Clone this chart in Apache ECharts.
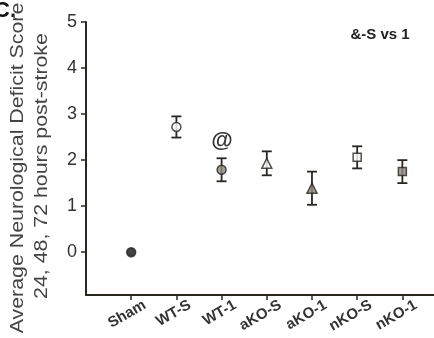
<!DOCTYPE html>
<html>
<head>
<meta charset="utf-8">
<script src="https://cdn.jsdelivr.net/npm/echarts@6/dist/echarts.min.js"></script>
<style>
  html, body { margin: 0; padding: 0; background: #fff; }
  #chart { width: 434px; height: 338px; }
</style>
</head>
<body>
<div id="chart"></div>
<script>
// groups on the x axis (placed at 1..7)
const groups = ['Sham', 'WT-S', 'WT-1', 'aKO-S', 'aKO-1', 'nKO-S', 'nKO-1'];
// mean deficit score and error (SEM) per group
const means = [0, 2.72, 1.79, 1.93, 1.39, 2.06, 1.75];
const errors = [0, 0.23, 0.25, 0.26, 0.36, 0.24, 0.25];
const yTicks = [0, 1, 2, 3, 4, 5];

// marker look per group
const symbols = ['circle', 'circle', 'circle', 'triangle', 'triangle', 'rect', 'rect'];
const fills = ['#111', '#fff', '#8f8a80', '#fff', '#8f8a80', '#fff', '#8f8a80'];
const sizes = [9, 9, 9, 10, 10, 8, 8];

const ink = '#2a2622';
const labelShift = 0.3;

let myChart = echarts.init(document.getElementById('chart'));

let pointData = groups.map(function(g, i) {
    return {
        value: [i + 1, means[i]],
        symbol: symbols[i],
        symbolSize: sizes[i],
        itemStyle: { color: fills[i], borderColor: ink, borderWidth: 1.5 }
    };
});

let errData = groups.map(function(g, i) {
    return [i + 1, means[i] - errors[i], means[i] + errors[i]];
}).filter(function(d) { return d[2] > d[1]; });

let option = {
    animation: false,
    grid: { left: 86, right: 0, top: 22, bottom: 43 },
    xAxis: {
        type: 'value',
        min: 0,
        max: 7.7,
        splitLine: { show: false },
        axisLine: { onZero: false, lineStyle: { color: ink, width: 2 } },
        axisTick: {
            customValues: [1, 2, 3, 4, 5, 6, 7],
            length: 5,
            lineStyle: { color: ink, width: 1.5 }
        },
        axisLabel: {
            customValues: groups.map(function(g, i) { return i + 1 + labelShift; }),
            rotate: 30,
            margin: 9,
            fontFamily: 'Liberation Sans',
            fontWeight: 'bold',
            fontSize: 15,
            color: '#333',
            formatter: function(v) {
                return groups[Math.round(v - labelShift) - 1] || '';
            }
        }
    },
    yAxis: {
        type: 'value',
        min: -0.93,
        max: 5,
        splitLine: { show: false },
        axisLine: { show: true, onZero: false, lineStyle: { color: ink, width: 2 } },
        axisTick: {
            show: true,
            customValues: yTicks,
            length: 5,
            lineStyle: { color: ink, width: 1.5 }
        },
        axisLabel: {
            customValues: yTicks,
            margin: 9,
            fontFamily: 'Liberation Sans',
            fontSize: 18,
            color: '#333'
        }
    },
    series: [
        {
            type: 'custom',
            data: errData,
            renderItem: function(params, api) {
                let top = api.coord([api.value(0), api.value(2)]);
                let bot = api.coord([api.value(0), api.value(1)]);
                let cap = 5;
                let st = { stroke: ink, lineWidth: 1.8 };
                return {
                    type: 'group',
                    children: [
                        { type: 'line', shape: { x1: top[0], y1: top[1], x2: bot[0], y2: bot[1] }, style: st },
                        { type: 'line', shape: { x1: top[0] - cap, y1: top[1], x2: top[0] + cap, y2: top[1] }, style: st },
                        { type: 'line', shape: { x1: bot[0] - cap, y1: bot[1], x2: bot[0] + cap, y2: bot[1] }, style: st }
                    ]
                };
            },
            z: 2
        },
        {
            type: 'scatter',
            data: pointData,
            z: 3
        }
    ],
    graphic: [
        {
            type: 'text', x: -6, y: 0,
            style: { text: 'C.', font: 'bold 22px "Liberation Sans"', fill: '#111' }
        },
        {
            type: 'text', x: 18, y: 168, rotation: Math.PI / 2, scaleX: 1.22,
            style: {
                text: 'Average Neurological Deficit Score',
                font: '17.5px "Liberation Sans"', fill: '#444',
                align: 'center', verticalAlign: 'middle'
            }
        },
        {
            type: 'text', x: 42, y: 166, rotation: Math.PI / 2, scaleX: 1.22,
            style: {
                text: '24, 48, 72 hours post-stroke',
                font: '17.5px "Liberation Sans"', fill: '#444',
                align: 'center', verticalAlign: 'middle'
            }
        },
        {
            type: 'text', x: 222, y: 141,
            style: {
                text: '@', font: 'bold 22px "Liberation Sans"', fill: '#333',
                align: 'center', verticalAlign: 'middle'
            }
        },
        {
            type: 'text', x: 380, y: 35,
            style: {
                text: '&-S vs 1', font: 'bold 15px "Liberation Sans"', fill: '#222',
                align: 'center', verticalAlign: 'middle'
            }
        }
    ]
};

myChart.setOption(option);
</script>
</body>
</html>
